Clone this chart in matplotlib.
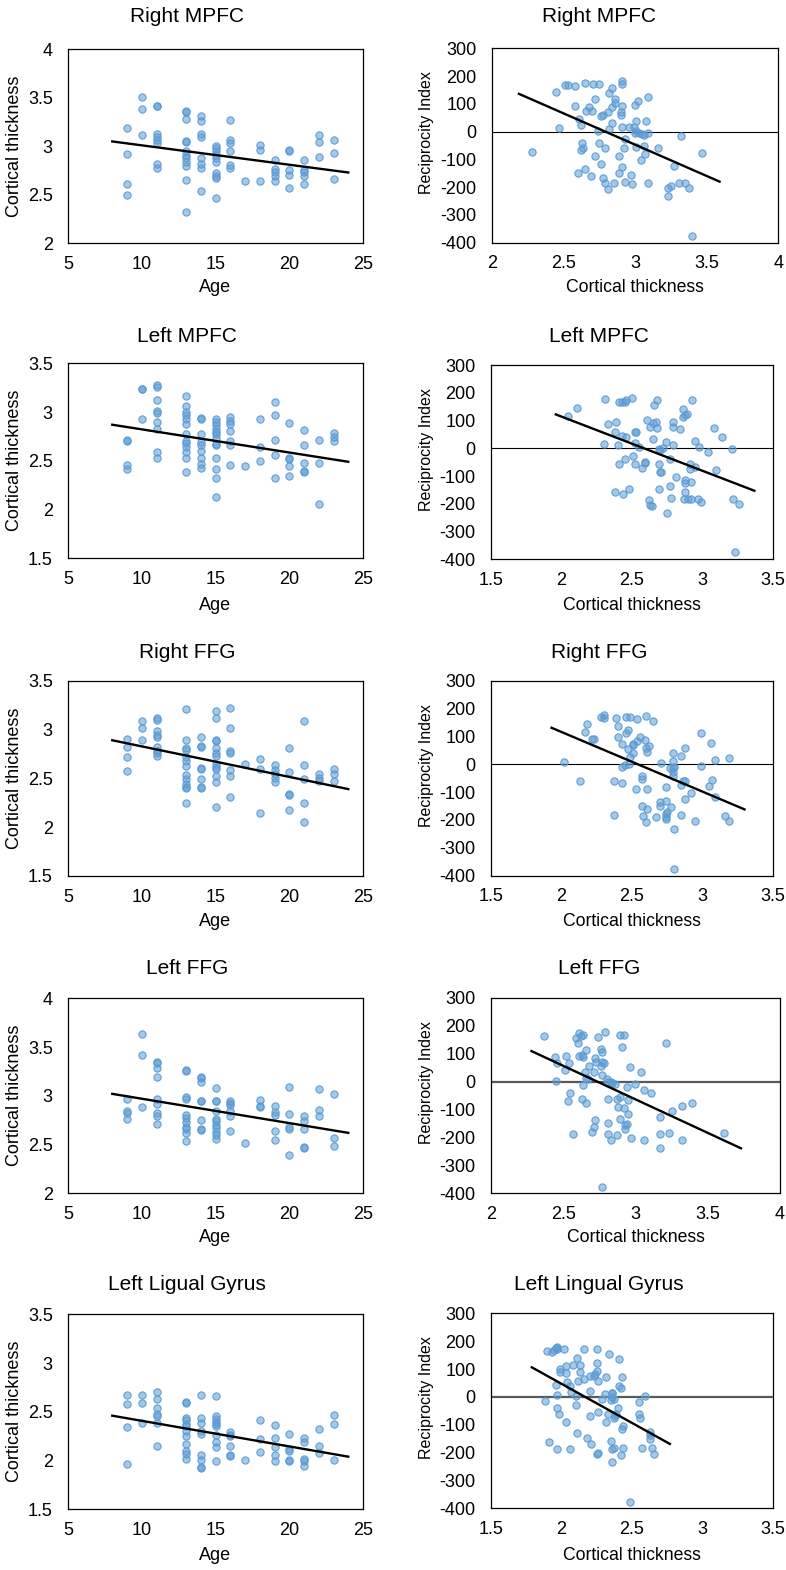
import matplotlib
matplotlib.use("Agg")
import matplotlib.pyplot as plt
from matplotlib.ticker import FuncFormatter

plt.rcParams['font.family'] = ['Liberation Sans', 'DejaVu Sans']

# ---------------- DATA ----------------
titles_left = ["Right MPFC", "Left MPFC", "Right FFG", "Left FFG", "Left Ligual Gyrus"]
titles_right = ["Right MPFC", "Left MPFC", "Right FFG", "Left FFG", "Left Lingual Gyrus"]

# Left column: Age vs Cortical thickness
r_mpfc_age = [9,9,9,9, 10,10,10, 11,11,11,11,11,11,11,11,
              13,13,13,13,13,13,13,13,13,13,13,13, 14,14,14,14,14,14,14,14,
              15,15,15,15,15,15,15,15,15,15, 16,16,16,16,16,16, 17, 18,18,18,
              19,19,19,19,19, 20,20,20,20,20, 21,21,21,21,21, 22,22,22, 23,23,23]
r_mpfc_ct = [3.19,2.92,2.61,2.50, 3.51,3.38,3.12, 3.42,3.42,3.13,3.10,3.07,3.03,2.82,2.78,
             3.36,3.35,3.28,3.05,3.04,2.95,2.91,2.88,2.84,2.80,2.65,2.32,
             3.31,3.26,3.13,3.10,2.88,2.82,2.78,2.54,
             3.00,2.98,2.95,2.91,2.88,2.84,2.72,2.69,2.67,2.47,
             3.27,3.07,3.03,2.95,2.81,2.78, 2.64, 3.01,2.96,2.64,
             2.86,2.77,2.74,2.69,2.64, 2.96,2.95,2.76,2.70,2.57,
             2.86,2.76,2.73,2.69,2.61, 3.12,3.04,2.89, 3.07,2.93,2.66]

l_mpfc_age = [9,9,9,9, 10,10,10, 11,11,11,11,11,11,11,11,11,
              13,13,13,13,13,13,13,13,13,13,13,13,13, 14,14,14,14,14,14,14,14,14,
              15,15,15,15,15,15,15,15,15,15,15,15,15, 16,16,16,16,16,16,16, 17, 18,18,18,
              19,19,19,19,19, 20,20,20,20,20, 21,21,21,21,21, 22,22,22, 23,23,23]
l_mpfc_ct = [2.71,2.70,2.46,2.42, 3.24,3.24,2.93, 3.28,3.26,3.12,3.01,2.99,2.90,2.83,2.59,2.53,
             3.16,3.06,3.00,2.97,2.93,2.88,2.77,2.70,2.68,2.64,2.59,2.53,2.39,
             2.94,2.93,2.77,2.69,2.66,2.60,2.53,2.47,2.43,
             2.93,2.90,2.87,2.83,2.80,2.77,2.73,2.67,2.66,2.53,2.42,2.32,2.13,
             2.95,2.91,2.88,2.81,2.70,2.66,2.46, 2.45, 2.93,2.64,2.50,
             3.10,2.97,2.71,2.56,2.32, 2.89,2.53,2.52,2.45,2.34,
             2.82,2.66,2.48,2.40,2.39, 2.71,2.48,2.06, 2.78,2.74,2.70]

r_ffg_age = [9,9,9,9, 10,10,10, 11,11,11,11,11,11,11,11,11,
             13,13,13,13,13,13,13,13,13,13,13,13,13, 14,14,14,14,14,14,14,14,
             15,15,15,15,15,15,15,15,15,15,15,15,15, 16,16,16,16,16,16,16, 17, 18,18,18,
             19,19,19,19,19, 20,20,20,20,20, 21,21,21,21,21, 22,22,22, 23,23,23]
r_ffg_ct = [2.90,2.82,2.72,2.58, 3.09,3.02,2.89, 3.12,3.10,2.98,2.94,2.92,2.82,2.78,2.76,2.73,
            3.21,2.89,2.81,2.79,2.72,2.68,2.63,2.53,2.49,2.44,2.41,2.40,2.25,
            2.92,2.83,2.82,2.61,2.60,2.49,2.41,2.40,
            3.19,3.12,2.89,2.88,2.81,2.76,2.73,2.65,2.62,2.60,2.52,2.46,2.21,
            3.22,3.02,2.78,2.76,2.59,2.52,2.31, 2.65, 2.70,2.60,2.15,
            2.64,2.59,2.54,2.50,2.46, 2.81,2.56,2.34,2.33,2.18,
            3.09,2.64,2.49,2.25,2.05, 2.54,2.50,2.47, 2.60,2.54,2.47]

l_ffg_age = [9,9,9,9, 10,10,10, 11,11,11,11,11,11,11,11,11,
             13,13,13,13,13,13,13,13,13,13,13, 14,14,14,14,14,14,14,14,
             15,15,15,15,15,15,15,15,15,15,15, 16,16,16,16,16,16, 17, 18,18,18,
             19,19,19,19,19, 20,20,20,20,20, 21,21,21,21,21, 22,22,22, 23,23,23]
l_ffg_ct = [2.97,2.84,2.82,2.76, 3.63,3.42,2.88, 3.35,3.34,3.28,3.19,2.97,2.92,2.82,2.79,2.71,
            3.26,3.25,2.99,2.97,2.80,2.77,2.73,2.68,2.66,2.62,2.54,
            3.19,3.18,3.14,2.95,2.95,2.75,2.66,2.65,
            3.08,2.95,2.95,2.84,2.76,2.74,2.70,2.67,2.63,2.60,2.56,
            2.95,2.93,2.91,2.84,2.79,2.64, 2.52, 2.96,2.90,2.88,
            2.90,2.83,2.80,2.64,2.55, 3.09,2.81,2.68,2.66,2.39,
            2.79,2.74,2.66,2.47,2.46, 3.07,2.85,2.79, 3.02,2.57,2.49]

l_ling_age = [9,9,9,9, 10,10,10, 11,11,11,11,11,11,11,
              13,13,13,13,13,13,13,13,13,13,13,13, 14,14,14,14,14,14,14,14,14,
              15,15,15,15,15,15,15,15,15,15, 16,16,16,16,16,16, 17, 18,18,18,
              19,19,19,19,19, 20,20,20,20,20, 21,21,21,21,21, 22,22,22, 23,23,23]
l_ling_ct = [2.67,2.58,2.34,1.96, 2.67,2.59,2.39, 2.70,2.63,2.54,2.48,2.46,2.39,2.15,
             2.60,2.59,2.44,2.42,2.38,2.35,2.30,2.25,2.17,2.10,2.07,2.02,
             2.67,2.44,2.39,2.30,2.27,2.06,2.01,1.93,1.92,
             2.66,2.46,2.43,2.40,2.38,2.35,2.26,2.19,2.14,2.00,
             2.29,2.26,2.25,2.15,2.06,2.05, 2.01, 2.42,2.22,2.09,
             2.36,2.23,2.14,2.06,2.00, 2.27,2.12,2.10,2.01,2.00,
             2.23,2.19,2.02,2.00,1.94, 2.32,2.15,2.08, 2.47,2.38,2.01]

# Right column: Cortical thickness vs Reciprocity Index
r_mpfc_t = [2.28,2.45,2.47,2.51,2.53,2.58,2.58,2.61,2.62,2.63, 2.64,2.62,2.60,2.65,2.65,2.66,2.68,2.70,2.69,2.72,
            2.71,2.72,2.74,2.75,2.75,2.76,2.76,2.78,2.78,2.79, 2.79,2.81,2.81,2.82,2.82,2.84,2.84,2.84,2.85,2.86,
            2.86,2.89,2.89,2.90,2.90,2.91,2.91,2.91,2.91,2.91, 2.92,2.93,2.93,2.96,2.97,2.98,2.99,3.00,3.00,3.01,
            3.01,3.01,3.02,3.03,3.04,3.05,3.06,3.06,3.07,3.08, 3.09,3.09,3.09,3.16,3.23,3.23,3.25,3.27,3.31,3.32,
            3.35,3.38,3.40,3.47]
r_mpfc_ri = [-72,144,12,168,168,164,92,46,24,-40, -60,-68,-148,176,-136,76,88,76,-160,-88,
             172,116,4,-40,172,-116,56,60,-168,-60, -184,-208,72,10,140,156,32,90,-184,116,
             102,-88,-148,72,60,182,172,92,16,-126, -60,-28,-180,16,-156,-188,18,96,-4,-56,
             4,40,112,-6,-104,-8,-12,-52,-80,40, -4,124,-184,-60,-204,-232,-196,-124,-184,-16,
             -184,-204,-376,-76]

l_mpfc_t = [2.05,2.11,2.30,2.31,2.33,2.38,2.39,2.38,2.40,2.41, 2.41,2.43,2.43,2.44,2.45,2.45,2.46,2.46,2.48,2.50,
            2.51,2.52,2.52,2.52,2.53,2.55,2.57,2.59,2.59,2.61, 2.62,2.63,2.64,2.63,2.65,2.65,2.66,2.67,2.68,2.68,
            2.69,2.69,2.69,2.70,2.70,2.71,2.72,2.74,2.75,2.77, 2.77,2.78,2.79,2.79,2.79,2.81,2.84,2.86,2.86,2.87,
            2.88,2.88,2.88,2.88,2.89,2.90,2.91,2.91,2.92,2.92, 2.93,2.95,2.95,2.97,2.98,2.99,3.04,3.08,3.10,3.14,
            3.21,3.22,3.23,3.26]
l_mpfc_ri = [118,146,17,178,89,-159,94,57,12,-58, 168,168,45,-166,-39,166,173,42,-147,182,
             -27,-58,18,60,60,3,-72,-54,-48,101, -186,-204,-207,77,33,90,156,94,173,72,
             -58,-3,-147,-87,-6,-87,0,21,-234,-39, -135,-178,96,77,10,-102,70,142,114,-183,
             -156,-126,120,-114,122,-183,-75,-58,-183,-123, 173,26,-66,-183,6,-195,-15,74,-78,41,
             -4,-183,-375,-202]

r_ffg_t = [2.02,2.13,2.17,2.18,2.22,2.23,2.28,2.30,2.30,2.37, 2.37,2.39,2.40,2.40,2.43,2.43,2.43,2.45,2.46,2.46,
           2.47,2.47,2.48,2.49,2.49,2.51,2.51,2.51,2.53,2.54, 2.54,2.56,2.57,2.57,2.57,2.58,2.59,2.60,2.60,2.60,
           2.61,2.61,2.61,2.62,2.65,2.67,2.70,2.70,2.71,2.74, 2.74,2.74,2.74,2.74,2.75,2.77,2.78,2.79,2.79,2.79,
           2.79,2.80,2.79,2.80,2.80,2.85,2.85,2.85,2.86,2.88, 2.88,2.88,2.92,2.95,2.99,2.99,3.05,3.06,3.07,3.09,
           3.09,3.16,3.19,3.19]
r_ffg_ri = [7,-61,115,143,91,91,171,177,165,-182, -60,167,97,137,73,-69,-10,-3,171,113,
            123,55,1,171,25,69,73,39,-89,162, 85,97,-41,-53,-149,-185,87,173,59,-209,
            43,-89,-161,67,155,-188,-149,-137,3,-81, -131,-188,-180,-197,-170,-15,-155,39,-15,-27,
            12,-11,-41,-234,-376,30,-75,-182,-59,57, -59,-125,-104,-203,111,-5,-77,75,-57,15,
            -116,-185,22,-204]

l_ffg_t = [2.37,2.44,2.45,2.46,2.51,2.52,2.53,2.54,2.55,2.57, 2.59,2.60,2.61,2.61,2.62,2.63,2.63,2.64,2.64,2.64,
           2.65,2.66,2.66,2.66,2.67,2.68,2.70,2.71,2.71,2.72, 2.72,2.73,2.74,2.76,2.76,2.77,2.77,2.78,2.77,2.79,
           2.80,2.81,2.81,2.81,2.81,2.83,2.83,2.84,2.86,2.87, 2.87,2.88,2.89,2.89,2.89,2.92,2.91,2.92,2.93,2.93,
           2.94,2.94,2.95,2.95,2.96,2.97,3.00,3.04,3.06,3.06, 3.11,3.17,3.17,3.17,3.21,3.23,3.25,3.32,3.32,3.39,
           3.61,2.77]
l_ffg_ri = [163,87,3,65,41,91,-70,65,-40,-188, 155,139,172,91,164,95,-64,-12,166,87,
            33,113,-76,14,9,56,-179,33,-161,83, -138,71,158,116,57,104,71,67,23,178,
            9,-1,-64,-150,-188,-3,-209,-6,-10,-62, -191,-90,-54,-134,166,166,122,-93,-155,-170,
            -18,-153,-117,-66,53,-201,-10,33,-30,-209, -42,-126,-188,-237,139,-185,-104,-86,-209,-78,
            -185,-376]

l_ling_t = [1.88,1.90,1.91,1.93,1.95,1.96,1.97,1.97,1.96,1.97, 1.97,1.98,1.97,1.99,1.99,2.02,2.03,2.03,2.03,2.04,
            2.06,2.06,2.07,2.08,2.10,2.10,2.11,2.11,2.12,2.13, 2.13,2.16,2.16,2.18,2.20,2.20,2.20,2.21,2.23,2.24,
            2.25,2.25,2.25,2.25,2.26,2.26,2.26,2.29,2.31,2.32, 2.33,2.32,2.34,2.35,2.35,2.36,2.36,2.36,2.36,2.36,
            2.37,2.37,2.37,2.38,2.39,2.41,2.40,2.41,2.42,2.42, 2.43,2.43,2.44,2.44,2.49,2.55,2.55,2.56,2.57,2.59,
            2.63,2.63,2.63,2.64,2.66]
l_ling_ri = [-14,166,-161,162,168,174,178,171,43,5, -41,-61,-187,99,91,171,111,85,-89,55,
             40,-188,19,115,4,-29,141,-128,58,115, 91,64,171,-149,-68,22,75,-169,75,82,
             93,123,171,-205,-53,-200,58,-8,10,70, -61,-89,154,-157,-11,15,-187,13,-2,-232,
             -77,-9,-185,-69,-63,136,-41,39,31,-209, 70,-116,-104,-185,-376,-61,-17,-77,-185,3,
             -137,-125,-151,-185,-205]

# Linear trend lines (end points)
trend_left_x = [[8, 24], [8, 24], [8, 24], [8, 24], [8, 24]]
trend_left_y = [[3.05, 2.73], [2.87, 2.49], [2.89, 2.39], [3.02, 2.62], [2.46, 2.04]]
trend_right_x = [[2.19, 3.59], [1.96, 3.37], [1.93, 3.30], [2.28, 3.73], [1.79, 2.77]]
trend_right_y = [[136, -180], [122, -153], [131, -162], [109, -239], [106, -169]]

left_x = [r_mpfc_age, l_mpfc_age, r_ffg_age, l_ffg_age, l_ling_age]
left_y = [r_mpfc_ct, l_mpfc_ct, r_ffg_ct, l_ffg_ct, l_ling_ct]
right_x = [r_mpfc_t, l_mpfc_t, r_ffg_t, l_ffg_t, l_ling_t]
right_y = [r_mpfc_ri, l_mpfc_ri, r_ffg_ri, l_ffg_ri, l_ling_ri]

left_ylim = [(2, 4), (1.5, 3.5), (1.5, 3.5), (2, 4), (1.5, 3.5)]
right_xlim = [(2, 4), (1.5, 3.5), (1.5, 3.5), (2, 4), (1.5, 3.5)]

# ---------------- LAYOUT (pixels) ----------------
W, H = 786, 1570
fig = plt.figure(figsize=(W / 100, H / 100), dpi=100)

left_boxes = [(68, 363, 49.3, 243.3), (68, 363, 363.3, 558.3), (68, 363, 680.7, 876),
              (68, 363, 998.3, 1193.3), (68, 363, 1314.3, 1509.3)]
right_boxes = [(491.7, 778.3, 48.3, 242.7), (491, 772.7, 365, 559.3), (491, 772.7, 680.7, 875.7),
               (491, 780, 997.7, 1193.3), (491, 772.7, 1313.3, 1508.3)]
title_y = [17, 337, 652, 968, 1285]
xlabel_y = [288, 605, 922, 1238, 1555]
zero_style = [('black', 0.8), ('black', 0.8), ('black', 0.8), ('#595959', 1.6), ('#595959', 1.6)]

face = (0.357, 0.608, 0.835, 0.55)
edge = (0.357, 0.608, 0.835, 0.95)
fmt = FuncFormatter(lambda v, p: ('%g' % v))


def make_ax(box):
    x0, x1, y0, y1 = box
    return fig.add_axes([x0 / W, 1 - y1 / H, (x1 - x0) / W, (y1 - y0) / H])


def style(ax):
    for s in ax.spines.values():
        s.set_linewidth(0.9)
        s.set_color('black')
    ax.tick_params(length=0, labelsize=13)
    ax.tick_params(axis='y', pad=11)
    ax.tick_params(axis='x', pad=9)
    ax.xaxis.set_major_formatter(fmt)
    ax.yaxis.set_major_formatter(fmt)


for i in range(5):
    # left panel
    ax = make_ax(left_boxes[i])
    ax.scatter(left_x[i], left_y[i], s=27, facecolor=face, edgecolor=edge, linewidth=0.8, zorder=3)
    ax.plot(trend_left_x[i], trend_left_y[i], color='black', linewidth=1.7, zorder=4)
    ax.set_xlim(5, 25)
    ax.set_ylim(*left_ylim[i])
    ax.set_xticks([5, 10, 15, 20, 25])
    lo, hi = left_ylim[i]
    ax.set_yticks([lo + 0.5 * k for k in range(int(round((hi - lo) / 0.5)) + 1)])
    style(ax)
    x0, x1, y0, y1 = left_boxes[i]
    fig.text(187 / W, 1 - title_y[i] / H, titles_left[i], ha='center', va='center', fontsize=15)
    fig.text((x0 + x1) / 2 / W, 1 - xlabel_y[i] / H, "Age", ha='center', va='center', fontsize=13)
    fig.text(15 / W, 1 - ((y0 + y1) / 2) / H, "Cortical thickness", ha='center', va='center',
             rotation=90, fontsize=13)

    # right panel
    ax = make_ax(right_boxes[i])
    zc, zw = zero_style[i]
    ax.axhline(0, color=zc, linewidth=zw, zorder=2)
    ax.scatter(right_x[i], right_y[i], s=27, facecolor=face, edgecolor=edge, linewidth=0.8, zorder=3)
    ax.plot(trend_right_x[i], trend_right_y[i], color='black', linewidth=1.7, zorder=4)
    ax.set_xlim(*right_xlim[i])
    ax.set_ylim(-400, 300)
    lo, hi = right_xlim[i]
    ax.set_xticks([lo + 0.5 * k for k in range(5)])
    ax.set_yticks(list(range(-400, 301, 100)))
    style(ax)
    x0, x1, y0, y1 = right_boxes[i]
    fig.text(599 / W, 1 - title_y[i] / H, titles_right[i], ha='center', va='center', fontsize=15)
    fig.text((x0 + x1) / 2 / W, 1 - xlabel_y[i] / H, "Cortical thickness", ha='center', va='center',
             fontsize=12.7)
    fig.text(426 / W, 1 - ((y0 + y1) / 2 - 13) / H, "Reciprocity Index", ha='center', va='center',
             rotation=90, fontsize=11.5)

fig.savefig("out.png", dpi=100, facecolor='white')
